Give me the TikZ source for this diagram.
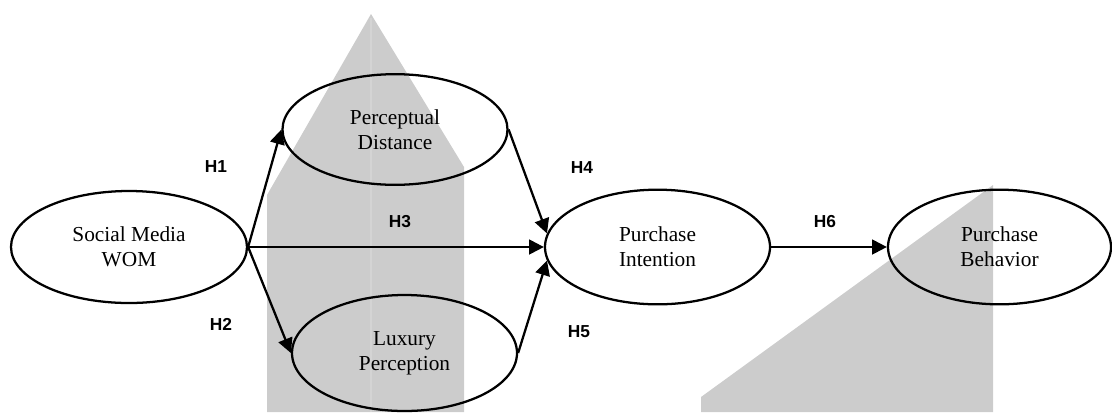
\documentclass[tikz,border=0pt]{standalone}
\usepackage{fontspec}
\setmainfont{Liberation Serif}
\newfontfamily\hlabelfont{Liberation Sans}
\usetikzlibrary{arrows.meta, shapes.geometric}

\begin{document}
\begin{tikzpicture}[x=0.75pt, y=-0.75pt,
    construct/.style={draw, ellipse, line width=1.7pt, inner sep=0pt, align=center,
        minimum width=168.75pt, minimum height=86pt, font=\fontsize{16}{18.5}\selectfont},
    hyp/.style={font=\hlabelfont\bfseries\fontsize{13}{15}\selectfont},
    hyparrow/.style={-{Triangle[length=11pt,width=11pt]}, line width=1.7pt}]
    \useasboundingbox (0,0) rectangle (1112,412);

    % Grey shading behind the model
    \fill[black!20] (267,412) -- (267,195) -- (371,14) -- (464,167) -- (464,412) -- cycle;
    \draw[black!17, line width=1.5pt] (371,18) -- (371,412);
    \fill[black!20] (701,412) -- (701,397) -- (993,185) -- (993,412) -- cycle;

    % Constructs
    \node[construct, minimum width=177pt, minimum height=84pt] (wom) at (129,247) {Social Media\\WOM};
    \node[construct, minimum height=83pt] (pd) at (395,129.5) {Perceptual\\Distance};
    \node[construct, minimum height=87pt] (lp) at (404.5,353) {Luxury\\Perception};
    \node[construct] (pi) at (657.5,247) {Purchase\\Intention};
    \node[construct, minimum width=167.25pt] (pb) at (999.5,247) {Purchase\\Behavior};

    % Hypotheses
    \draw[hyparrow] (wom.east) -- (pd.west);
    \draw[hyparrow] (wom.east) -- (lp.west);
    \draw[hyparrow] (wom.east) -- (pi.west);
    \draw[hyparrow] (pd.east) -- (pi.173);
    \draw[hyparrow] (lp.east) -- (pi.187);
    \draw[hyparrow] (pi.east) -- (pb.west);

    % Hypothesis labels
    \node[hyp] (h1) at (216,167) {H1};
    \node[hyp] (h2) at (221,324) {H2};
    \node[hyp] (h3) at (400,222) {H3};
    \node[hyp] (h4) at (582,168) {H4};
    \node[hyp] (h5) at (579,332) {H5};
    \node[hyp] (h6) at (825,222) {H6};
\end{tikzpicture}
\end{document}
